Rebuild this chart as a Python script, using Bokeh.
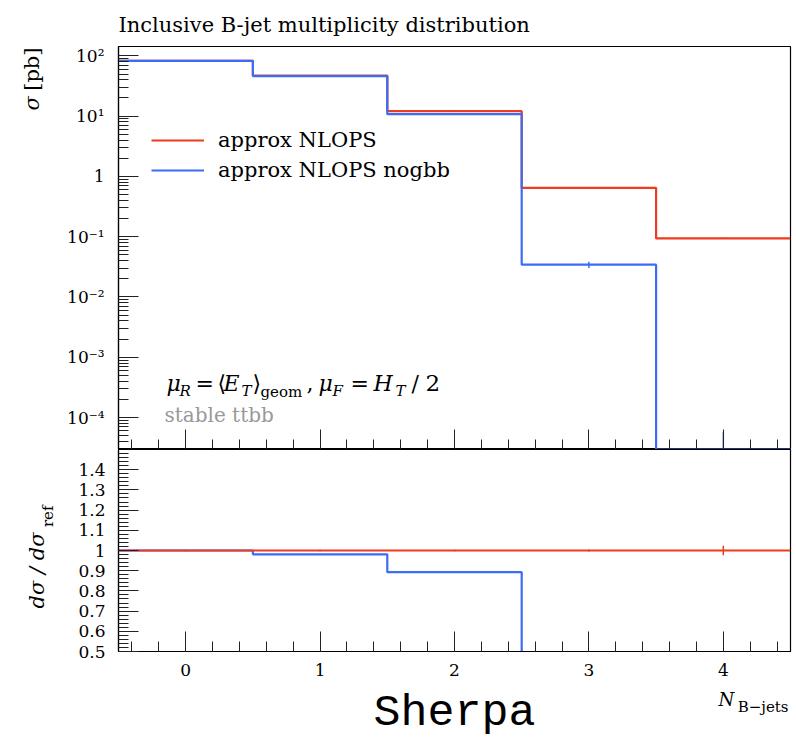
import numpy as np
from bokeh.plotting import figure
from bokeh.layouts import column, row
from bokeh.models import Range1d, FixedTicker, CustomJSTickFormatter, Legend, LegendItem
from bokeh.core.properties import value
from bokeh.embed import file_html
from bokeh.resources import INLINE

# ---------------- data ----------------
n_bjets = [0, 1, 2, 3, 4]
x_tick_labels = ["0", "1", "2", "3", "4"]
nlops = [82.6, 47.1, 12.1, 0.648, 0.0937]
nlops_err = [0.3, 0.15, 0.05, 0.003, 0.0022]
nogbb = [82.6, 46.2, 10.8, 0.0343, 0.0]
nogbb_err = [0.3, 0.15, 0.05, 0.004, 5.7e-5]
legend_labels = ["approx NLOPS", "approx NLOPS nogbb"]
title_text = "Inclusive B-jet multiplicity distribution"

FONT = "DejaVu Serif"
RED = "#ee3a1f"
BLUE = "#3b6cf6"
YLO, YHI = 2.95e-5, 143.0
K = 0.33                     # baseline correction (fraction of font size)

centers = np.array(n_bjets, dtype=float)
edges = np.append(centers - 0.5, centers[-1] + 0.5)


def step_y(v, floor=None):
    v = np.asarray(v, dtype=float)
    if floor is not None:
        v = np.where(v > 0, v, floor)
    return np.append(v, v[-1])


W, H = 796, 738
LW = 64                      # width of the left label strip
FL, FT, FW, FH1, FH2 = 117, 46, 672, 403, 202
BB = 10                      # room under the ratio frame for the "0.5" label
BELOW_H = H - (FT + FH1 + FH2 + BB)
RB = 7


def style_axes(p):
    for ax in p.axis:
        ax.major_tick_in = 20
        ax.major_tick_out = 0
        ax.minor_tick_in = 10
        ax.minor_tick_out = 0
        ax.axis_line_color = "black"
        ax.axis_line_width = 1.2
        ax.major_tick_line_color = "#222222"
        ax.minor_tick_line_color = "#222222"
        ax.major_label_text_font = FONT
        ax.major_label_text_font_size = "17px"
        ax.major_label_text_color = "black"
    p.xgrid.visible = False
    p.ygrid.visible = False
    p.outline_line_color = "black"
    p.outline_line_width = 1.2


def blank(p):
    p.outline_line_color = None
    p.xgrid.visible = False
    p.ygrid.visible = False
    return p


x_range = Range1d(-0.5, 4.5)
x_ticker = FixedTicker(ticks=n_bjets, minor_ticks=list(np.round(np.arange(-0.4, 4.5, 0.2), 2)))
no_labels = CustomJSTickFormatter(code="return '';")

# ---------------- top panel ----------------
top = figure(frame_width=FW, frame_height=FH1, x_range=x_range,
             y_range=Range1d(YLO, YHI), y_axis_type="log", title=title_text,
             output_backend="svg", toolbar_location=None,
             min_border_left=FL - LW, min_border_right=RB, min_border_top=FT, min_border_bottom=0,
             background_fill_color="white", border_fill_color="white")
style_axes(top)
top.title.align = "left"
top.title.text_font = FONT
top.title.text_font_size = "21px"
top.title.text_font_style = "normal"
top.title.text_color = "black"
top.title.standoff = 20
top.xaxis.ticker = x_ticker
top.xaxis.formatter = no_labels
top.xaxis.major_label_text_font_size = "0px"
top.xaxis.major_label_standoff = 0
major_log = [10.0 ** e for e in range(-4, 3)]
minor_log = [m * 10.0 ** e for e in range(-5, 3) for m in range(2, 10)]
top.yaxis.ticker = FixedTicker(ticks=major_log, minor_ticks=minor_log)
top.yaxis.formatter = CustomJSTickFormatter(code="""
const e = Math.round(Math.log10(tick));
if (e == 0) return '1';
const sup = {'-':'\u207b','0':'\u2070','1':'\u00b9','2':'\u00b2','3':'\u00b3','4':'\u2074','5':'\u2075','6':'\u2076','7':'\u2077','8':'\u2078','9':'\u2079'};
return '10' + String(e).split('').map(c => sup[c]).join('');
""")
top.yaxis.major_label_standoff = 14

r_red = top.step(edges, step_y(nlops), mode="after", line_color=RED, line_width=2.2)
r_blue = top.step(edges, step_y(nogbb, YLO), mode="after", line_color=BLUE, line_width=2.2)

lo_r = np.maximum(np.array(nlops) - np.array(nlops_err), YLO)
hi_r = np.array(nlops) + np.array(nlops_err)
top.segment(centers, lo_r, centers, hi_r, line_color=RED, line_width=1.5)
lo_b = np.maximum(np.array(nogbb) - np.array(nogbb_err), YLO)
hi_b = np.array(nogbb) + np.array(nogbb_err)
top.segment(centers, lo_b, centers, hi_b, line_color=BLUE, line_width=1.5)

legend = Legend(items=[LegendItem(label=legend_labels[0], renderers=[r_red]),
                       LegendItem(label=legend_labels[1], renderers=[r_blue])],
                location=(33, 264), label_text_font=FONT, label_text_font_size="21px",
                label_text_color="black",
                glyph_width=53, glyph_height=30, label_height=30, spacing=0, padding=0,
                margin=0, border_line_color=None, background_fill_alpha=0, label_standoff=14)
top.add_layout(legend)

# in-frame annotation, anchored at the frame's bottom-left corner (image-pixel baselines)
formula = [("\u03bc", 165, 390, 22, True), ("R", 178, 395, 15, True), ("=", 194, 390, 22, False),
           ("\u27e8", 216, 390, 22, False), ("E", 222, 390, 22, True), ("T", 240, 395, 15, True),
           ("\u27e9", 251, 390, 22, False), ("geom", 259, 396, 15, False), (",", 305, 390, 22, False),
           ("\u03bc", 317, 390, 22, True), ("F", 331, 395, 15, True), ("=", 349, 390, 22, False),
           ("H", 372, 390, 22, True), ("T", 394, 395, 15, True), ("/", 410, 390, 22, False),
           ("2", 424, 390, 23, False)]
for t, X, Y, s, it in formula:
    top.text(x=[x_range.start], y=[YLO], text=[t], x_offset=X - FL,
             y_offset=Y - K * s - (FT + FH1),
             text_font=value(FONT), text_font_size=f"{s}px",
             text_font_style="italic" if it else "normal", text_color="black",
             text_align="left", text_baseline="alphabetic")
top.text(x=[x_range.start], y=[YLO], text=["stable ttbb"], x_offset=163 - FL,
         y_offset=421 - K * 20 - (FT + FH1), text_font=value(FONT), text_font_size="20px",
         text_color="#999999", text_align="left", text_baseline="alphabetic")

# ---------------- ratio panel ----------------
bot = figure(frame_width=FW, frame_height=FH2, x_range=x_range, y_range=Range1d(0.5, 1.5),
             output_backend="svg", toolbar_location=None, title=None,
             min_border_left=FL - LW, min_border_right=RB, min_border_top=0, min_border_bottom=BB,
             background_fill_color="white", border_fill_color="white")
style_axes(bot)
bot.xaxis.ticker = x_ticker
bot.xaxis.formatter = no_labels
bot.xaxis.major_label_text_font_size = "0px"
bot.xaxis.major_label_standoff = 0
bot.yaxis.ticker = FixedTicker(ticks=list(np.round(np.arange(0.5, 1.45, 0.1), 2)),
                               minor_ticks=list(np.round(np.arange(0.5, 1.5, 0.02), 2)))
bot.yaxis.formatter = CustomJSTickFormatter(code="return tick.toFixed(1).replace(/\\.0$/, '');")
bot.yaxis.major_label_standoff = 13

ref = np.array(nlops)
ratio_red = np.array(nlops) / ref
ratio_blue = np.array(nogbb) / ref
bot.step(edges, step_y(ratio_blue), mode="after", line_color=BLUE, line_width=2.2)
bot.step(edges, step_y(ratio_red), mode="after", line_color=RED, line_width=2.2)
er = np.array(nlops_err) / ref
bot.segment(centers, ratio_red - er, centers, ratio_red + er, line_color=RED, line_width=1.5)

# ---------------- x tick labels + axis title strip (shares the x scale) ----------------
below = figure(frame_width=FW, frame_height=BELOW_H, x_range=x_range, y_range=Range1d(0, BELOW_H),
               output_backend="svg", toolbar_location=None, title=None,
               x_axis_location=None, y_axis_location=None,
               min_border_left=FL - LW, min_border_right=RB, min_border_top=0, min_border_bottom=0,
               background_fill_color="white", border_fill_color="white")
blank(below)
y0 = H - BELOW_H


def by(Y, s=0.0):
    return BELOW_H - (Y - K * s - y0)


below.text(x=n_bjets, y=[by(663)] * len(n_bjets), text=x_tick_labels,
           text_font=value(FONT), text_font_size="17px", text_color="black",
           text_align="center", text_baseline="top")
below.text(x=[(x_range.start + x_range.end) / 2], y=[by(728, 45)], text=["Sherpa"],
           text_font=value("Liberation Mono"), text_font_size="45px", text_color="black",
           text_align="center", text_baseline="alphabetic")
below.text(x=[x_range.end], y=[by(705, 18)], x_offset=717 - (FL + FW), text=["N"],
           text_font=value(FONT), text_font_size="18px", text_font_style="italic",
           text_color="black", text_align="left", text_baseline="alphabetic")
below.text(x=[x_range.end], y=[by(711, 15)], x_offset=-2, text=["B\u2212jets"],
           text_font=value(FONT), text_font_size="15px", text_color="black",
           text_align="right", text_baseline="alphabetic")

# ---------------- left label strip ----------------
left = figure(width=LW, height=H, x_range=Range1d(0, LW), y_range=Range1d(0, H),
              output_backend="svg", toolbar_location=None, title=None,
              x_axis_location=None, y_axis_location=None,
              min_border_left=0, min_border_right=0, min_border_top=0, min_border_bottom=0,
              background_fill_color="white", border_fill_color="white")
blank(left)


def lput(text, X, Y, size, italic=False, align="left"):
    left.text(x=[X - K * size], y=[H - Y], text=[text], text_font=value(FONT),
              text_font_size=f"{size}px", text_font_style="italic" if italic else "normal",
              text_color="black", angle=np.pi / 2, text_align=align, text_baseline="alphabetic")


lput("\u03c3", 38, 110, 21, italic=True, align="left")
lput("[pb]", 38, 47, 21, align="right")
lput("d\u03c3 / d\u03c3", 43, 608, 21, italic=True, align="left")
lput("ref", 52, 505, 15, align="right")

layout = row(left, column(top, bot, below, spacing=0), spacing=0)
open("out.html", "w").write(file_html(layout, INLINE))
